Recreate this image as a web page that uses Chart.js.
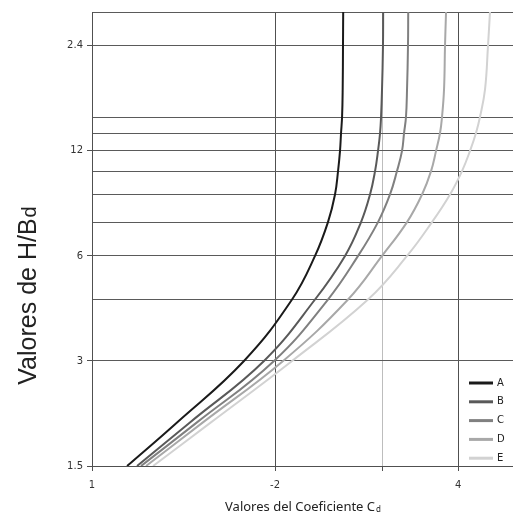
<!DOCTYPE html>
<html>
<head>
<meta charset="utf-8">
<script src="https://cdn.jsdelivr.net/npm/chart.js@4.4.0/dist/chart.umd.min.js"></script>
<style>
  html, body { margin: 0; padding: 0; background: #fff; }
  #wrap { width: 513px; height: 516px; position: relative; }
</style>
</head>
<body>
<div id="wrap"><canvas id="myChart" width="513" height="516"></canvas></div>
<script>
// H/Bd levels shared by every curve
const hbd = [1.5, 2, 3, 4.5, 6, 7.5, 9, 10.5, 12, 13.5, 15, 18, 24, 30];

// Cd values for each curve
const cdA = [1.142, 1.380, 1.778, 2.133, 2.327, 2.444, 2.510, 2.539, 2.558, 2.568, 2.578, 2.584, 2.587, 2.589];
const cdB = [1.186, 1.449, 1.918, 2.327, 2.607, 2.770, 2.866, 2.921, 2.954, 2.977, 2.988, 2.999, 3.010, 3.012];
const cdC = [1.204, 1.488, 1.992, 2.444, 2.739, 2.954, 3.091, 3.174, 3.235, 3.260, 3.284, 3.297, 3.309, 3.312];
const cdD = [1.227, 1.522, 2.062, 2.637, 2.999, 3.297, 3.490, 3.611, 3.680, 3.736, 3.764, 3.793, 3.807, 3.822];
const cdE = [1.260, 1.569, 2.133, 2.844, 3.297, 3.624, 3.880, 4.060, 4.185, 4.281, 4.346, 4.430, 4.480, 4.514];

const seriesNames = ['A', 'B', 'C', 'D', 'E'];
const seriesColors = ['#1a1a1a', '#595959', '#808080', '#a8a8a8', '#d2d2d2'];

// tick positions and their printed labels
const xTicks = [1, 2, 3, 4];
const xTickLabels = ['1', '-2', '', '4'];
const yTicks = [1.5, 3, 4.5, 6, 7.5, 9, 10.5, 12, 13.5, 15, 24, 30];
const yTickLabels = ['1.5', '3', '', '6', '', '', '', '12', '', '', '2.4', ''];

const allCd = [cdA, cdB, cdC, cdD, cdE];

const datasets = allCd.map((cd, i) => ({
  label: seriesNames[i],
  data: cd.map((x, j) => ({ x: x, y: hbd[j] })),
  borderColor: seriesColors[i],
  backgroundColor: seriesColors[i],
  borderWidth: 2,
  pointRadius: 0,
  showLine: true,
  tension: 0.42,
  fill: false
}));

// titles with subscripts + legend inside the plot
const decor = {
  id: 'decor',
  afterDraw(chart) {
    const ctx = chart.ctx;
    const a = chart.chartArea;
    ctx.save();
    ctx.fillStyle = '#222';

    // x title
    ctx.font = '13px "Noto Sans"';
    const main = 'Valores del Coeficiente C';
    const wMain = ctx.measureText(main).width;
    ctx.font = '8px "Noto Sans"';
    const wSub = ctx.measureText('d').width;
    let x0 = (a.left + a.right) / 2 - (wMain + wSub) / 2;
    ctx.textBaseline = 'alphabetic';
    ctx.textAlign = 'left';
    ctx.font = '13px "Noto Sans"';
    ctx.fillText(main, x0, 511);
    ctx.font = '8px "Noto Sans"';
    ctx.fillText('d', x0 + wMain + 1, 512);

    // y title, rotated
    ctx.translate(36, 296);
    ctx.rotate(-Math.PI / 2);
    ctx.font = '25px "Liberation Sans"';
    const yMain = 'Valores de H/B';
    const wy = ctx.measureText(yMain).width;
    ctx.font = '20px "Liberation Sans"';
    const wyd = ctx.measureText('d').width;
    const y0 = -(wy + wyd) / 2;
    ctx.font = '25px "Liberation Sans"';
    ctx.fillText(yMain, y0, 0);
    ctx.font = '20px "Liberation Sans"';
    ctx.fillText('d', y0 + wy + 1, 0);
    ctx.restore();

    // legend
    ctx.save();
    ctx.font = '10px "DejaVu Sans"';
    ctx.textBaseline = 'middle';
    chart.data.datasets.forEach((ds, i) => {
      const ly = a.bottom - 83 + i * 18.8;
      ctx.strokeStyle = ds.borderColor;
      ctx.lineWidth = 3;
      ctx.beginPath();
      ctx.moveTo(a.right - 44, ly);
      ctx.lineTo(a.right - 20, ly);
      ctx.stroke();
      ctx.fillStyle = '#222';
      ctx.fillText(ds.label, a.right - 16, ly);
    });
    ctx.restore();
  }
};

new Chart(document.getElementById('myChart'), {
  type: 'scatter',
  data: { datasets: datasets },
  options: {
    responsive: false,
    animation: false,
    layout: { padding: { top: 12, right: 0, left: 0, bottom: 0 } },
    plugins: {
      legend: { display: false },
      tooltip: { enabled: false }
    },
    scales: {
      x: {
        type: 'logarithmic',
        min: 1,
        max: 4.925,
        afterBuildTicks: (s) => { s.ticks = xTicks.map(v => ({ value: v })); },
        afterFit: (s) => { s.height = 50; },
        ticks: {
          autoSkip: false,
          maxRotation: 0,
          padding: 8,
          color: '#333',
          font: { family: 'DejaVu Sans', size: 10 },
          callback: (v) => { const k = xTicks.indexOf(v); return k >= 0 ? xTickLabels[k] : ''; }
        },
        grid: {
          color: (c) => (c.tick && c.tick.value === 3 ? '#bdbdbd' : '#505050'),
          lineWidth: 1,
          tickLength: 5,
          tickColor: '#505050'
        },
        border: { display: true, color: '#505050' }
      },
      y: {
        type: 'logarithmic',
        min: 1.5,
        max: 30,
        afterBuildTicks: (s) => { s.ticks = yTicks.map(v => ({ value: v })); },
        afterFit: (s) => { s.width = 92; },
        ticks: {
          autoSkip: false,
          padding: 4,
          color: '#333',
          font: { family: 'DejaVu Sans', size: 10 },
          callback: (v) => { const k = yTicks.indexOf(v); return k >= 0 ? yTickLabels[k] : ''; }
        },
        grid: {
          color: '#5a5a5a',
          lineWidth: 1,
          tickLength: 5,
          tickColor: (c) => {
            const k = c.tick ? yTicks.indexOf(c.tick.value) : -1;
            return k >= 0 && yTickLabels[k] !== '' ? '#505050' : 'rgba(0,0,0,0)';
          }
        },
        border: { display: true, color: '#505050' }
      }
    }
  },
  plugins: [decor]
});
</script>
</body>
</html>
